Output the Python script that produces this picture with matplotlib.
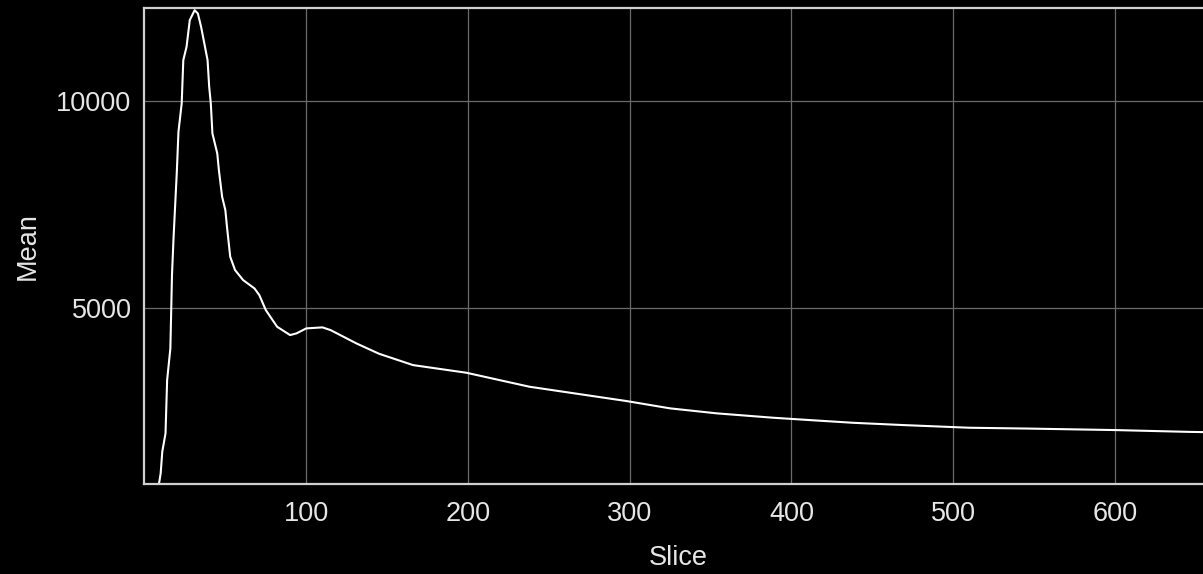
import matplotlib
matplotlib.use("Agg")
import matplotlib.pyplot as plt

# values
slice_idx = [1, 5, 8, 9, 10, 11, 13, 14, 16, 17, 18, 20, 21, 23, 24, 26, 28, 30, 31, 33,
             35, 37, 39, 40, 41, 42, 45, 46, 48, 50, 51, 53, 56, 61, 68, 71, 75, 82, 90,
             94, 100, 110, 115, 119, 131, 145, 166, 199, 238, 298, 325, 354, 389, 411,
             438, 469, 510, 545, 600, 645, 660]
mean_vals = [300, 450, 650, 765, 1006, 1530, 1973, 3260, 4027, 5797, 6723, 8300, 9259, 9944, 10990, 11312, 11957, 12117, 12198, 12117,
             11795, 11393, 10990, 10346, 9944, 9219, 8736, 8333, 7689, 7367, 6965, 6240, 5918, 5676, 5475, 5314, 4952, 4549, 4348,
             4389, 4509, 4534, 4469, 4389, 4147, 3897, 3623, 3438, 3100, 2754, 2577, 2456, 2350, 2295,
             2229, 2174, 2109, 2090, 2053, 2010, 2000]
x_ticks = [100, 200, 300, 400, 500, 600]
y_ticks = [5000, 10000]

fg = "#e6e6e6"
fig = plt.figure(figsize=(12.03, 5.74), dpi=100, facecolor="black")
W, H = 1203, 574
ax = fig.add_axes([144 / W, (H - 484) / H, (1212 - 144) / W, (484 - 8) / H])
ax.set_facecolor("black")
ax.plot(slice_idx, mean_vals, color="white", linewidth=1.5)
ax.set_xlim(-0.3, 660)
ax.set_ylim(750, 12250)
ax.set_xticks(x_ticks)
ax.set_yticks(y_ticks)
ax.grid(True, color="#6a6a6a", linewidth=0.9)
ax.set_axisbelow(True)
for s in ax.spines.values():
    s.set_color("#d0d0d0")
    s.set_linewidth(1.6)
ax.spines["right"].set_visible(False)
ax.tick_params(axis="x", length=0, pad=12, colors=fg, labelsize=19.5)
ax.tick_params(axis="y", length=0, pad=9, colors=fg, labelsize=19.5)
for lab in ax.get_xticklabels() + ax.get_yticklabels():
    lab.set_family("Liberation Sans")
ax.set_xlabel("Slice", color=fg, fontsize=19.5, family="Liberation Sans", labelpad=13)
ax.set_ylabel("Mean", color=fg, fontsize=19.5, family="Liberation Sans", labelpad=11)

fig.savefig("out.png", dpi=100, facecolor="black")
